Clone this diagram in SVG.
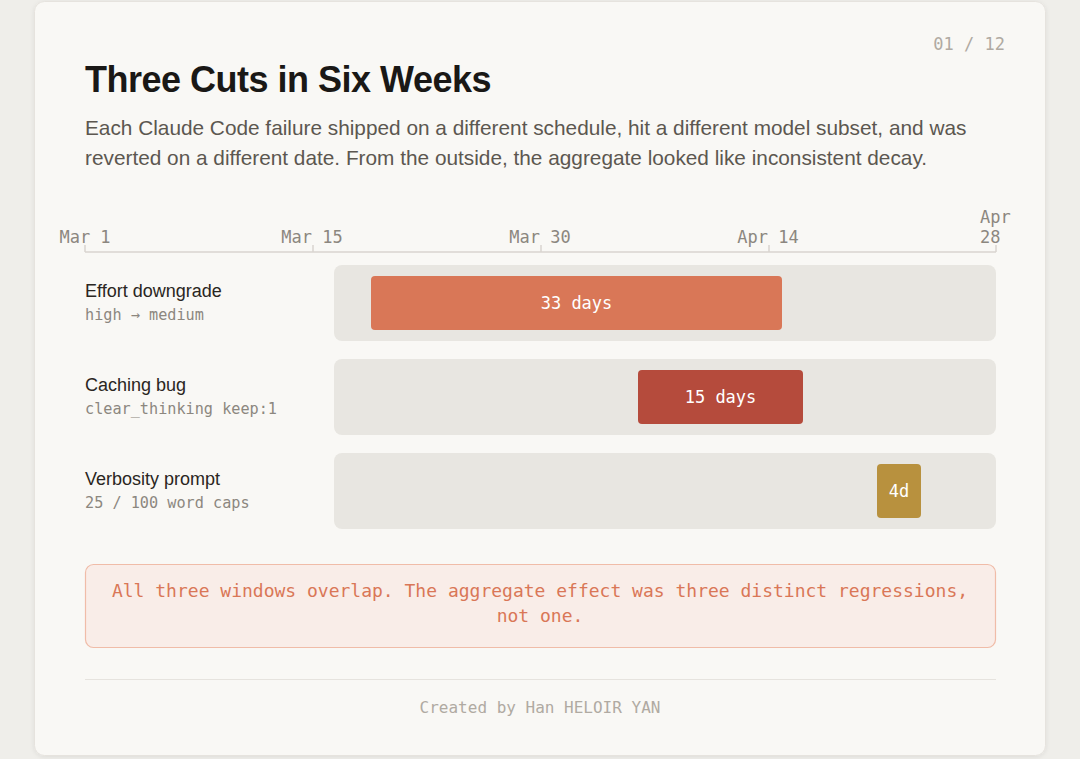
<svg xmlns="http://www.w3.org/2000/svg" width="1080" height="759" viewBox="0 0 1080 759">
<defs>
<style>
.sans{font-family:"Liberation Sans",Arial,sans-serif}
.mono{font-family:"DejaVu Sans Mono","Liberation Mono",monospace}
.axis{font-size:17px;fill:#8c877f}
.track{fill:#e8e6e1}
.lbl{font-size:18px;fill:#2a2622}
.sub{font-size:15.2px;fill:#8c877f}
.barText{font-size:17px;fill:#ffffff}
.tick{stroke:#d9d5cf;stroke-width:1.5}
</style>
<filter id="sh" x="-5%" y="-5%" width="110%" height="110%">
<feDropShadow dx="0" dy="1" stdDeviation="2" flood-color="#000" flood-opacity="0.08"/>
</filter>
</defs>
<rect x="0" y="0" width="1080" height="759" fill="#efeeea"/>
<rect x="34.5" y="1.5" width="1011" height="754" rx="10" fill="#f9f8f5" stroke="#e6e3de" stroke-width="1" filter="url(#sh)"/>

<g id="header">
<text class="mono" x="1005" y="50" font-size="17" fill="#b0aaa2" text-anchor="end">01 / 12</text>
<text class="sans" x="85" y="92" font-size="36" font-weight="bold" fill="#1a1816" letter-spacing="-0.5">Three Cuts in Six Weeks</text>
<text class="sans" x="85" y="135" font-size="20.8" fill="#5c5750">Each Claude Code failure shipped on a different schedule, hit a different model subset, and was</text>
<text class="sans" x="85" y="165" font-size="20.8" fill="#5c5750">reverted on a different date. From the outside, the aggregate looked like inconsistent decay.</text>
</g>

<g id="axis">
<line x1="85" y1="252" x2="996" y2="252" class="tick"/>
<line x1="85" y1="245" x2="85" y2="252" class="tick"/>
<line x1="313" y1="245" x2="313" y2="252" class="tick"/>
<line x1="541" y1="245" x2="541" y2="252" class="tick"/>
<line x1="769" y1="245" x2="769" y2="252" class="tick"/>
<line x1="996" y1="245" x2="996" y2="252" class="tick"/>
<text class="mono axis" x="85" y="243" text-anchor="middle">Mar 1</text>
<text class="mono axis" x="312" y="243" text-anchor="middle">Mar 15</text>
<text class="mono axis" x="540" y="243" text-anchor="middle">Mar 30</text>
<text class="mono axis" x="768" y="243" text-anchor="middle">Apr 14</text>
<text class="mono axis" x="980" y="223">Apr</text>
<text class="mono axis" x="980" y="243">28</text>
</g>

<g id="row-effort">
<text class="sans lbl" x="85" y="297">Effort downgrade</text>
<text class="mono sub" x="85" y="320">high → medium</text>
<rect class="track" x="334" y="265" width="662" height="76" rx="8"/>
<rect x="371" y="276" width="411" height="54" rx="4" fill="#d97757"/>
<text class="mono barText" x="576.5" y="309" text-anchor="middle">33 days</text>
</g>

<g id="row-caching">
<text class="sans lbl" x="85" y="391">Caching bug</text>
<text class="mono sub" x="85" y="414">clear_thinking keep:1</text>
<rect class="track" x="334" y="359" width="662" height="76" rx="8"/>
<rect x="638" y="370" width="165" height="54" rx="4" fill="#b54b3c"/>
<text class="mono barText" x="720.5" y="403" text-anchor="middle">15 days</text>
</g>

<g id="row-verbosity">
<text class="sans lbl" x="85" y="485">Verbosity prompt</text>
<text class="mono sub" x="85" y="508">25 / 100 word caps</text>
<rect class="track" x="334" y="453" width="662" height="76" rx="8"/>
<rect x="877" y="464" width="44" height="54" rx="4" fill="#b8913e"/>
<text class="mono barText" x="899" y="497" text-anchor="middle">4d</text>
</g>

<g id="callout">
<rect x="85.5" y="564.5" width="910" height="83" rx="8" fill="#f9ede8" stroke="#f0bca8" stroke-width="1.2"/>
<text class="mono" x="540" y="597" font-size="18" fill="#d97757" text-anchor="middle">All three windows overlap. The aggregate effect was three distinct regressions,</text>
<text class="mono" x="540" y="622" font-size="18" fill="#d97757" text-anchor="middle">not one.</text>
</g>

<g id="footer">
<line x1="85" y1="679.5" x2="996" y2="679.5" stroke="#e6e3de" stroke-width="1"/>
<text class="mono" x="540" y="713" font-size="16" fill="#b0aaa2" text-anchor="middle">Created by Han HELOIR YAN</text>
</g>
<g id="connectors"/>
</svg>
